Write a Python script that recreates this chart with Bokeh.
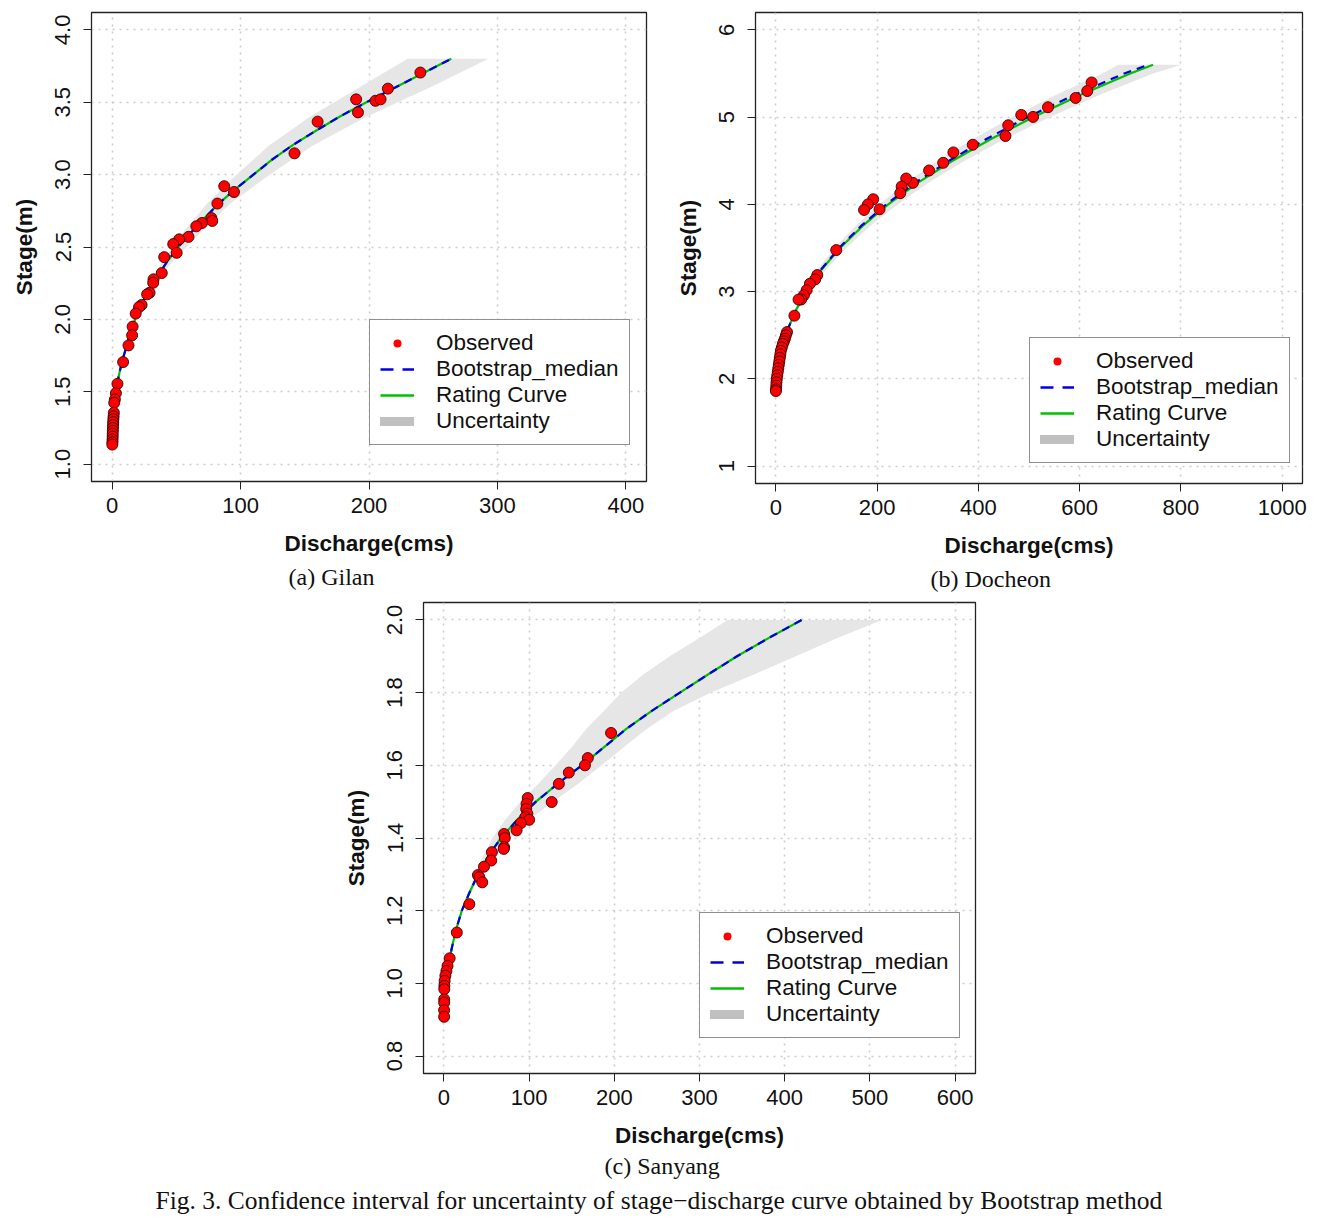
import numpy as np
from bokeh.plotting import figure
from bokeh.models import FixedTicker, Legend, LegendItem, Title, Range1d
from bokeh.layouts import row, column
from bokeh.embed import file_html
from bokeh.resources import INLINE

SANS = "Liberation Sans"
SERIF = "Liberation Serif"

# ---------------- (a) Gilan ----------------
gilan_obs_q = [240, 214.7, 190, 191.4, 205, 209, 160, 142, 87.3, 94.9, 82, 77.3, 78, 70, 65.6,
               59.5, 52.3, 47.6, 50.3, 40.6, 38.7, 32.3, 32, 29.2, 27.3, 23, 21, 18.4, 16, 15.6,
               12.8, 8.6, 4.2, 3.0, 2.2, 1.7, 1.4, 1.2, 1.0, 0.9, 0.8, 0.7, 0.6, 0.5, 0.5, 0.4, 0.3, 0.2]
gilan_obs_h = [3.705, 3.594, 3.52, 3.43, 3.51, 3.52, 3.366, 3.147, 2.92, 2.88, 2.80, 2.70, 2.68, 2.666, 2.643,
               2.57, 2.553, 2.52, 2.46, 2.43, 2.32, 2.277, 2.253, 2.184, 2.173, 2.10, 2.085, 2.04, 1.95, 1.89,
               1.82, 1.705, 1.555, 1.49, 1.447, 1.424, 1.355, 1.33, 1.31, 1.29, 1.27, 1.25, 1.23, 1.21, 1.19, 1.17, 1.15, 1.135]
gilan_curve_h = [1.55, 1.6, 1.7, 1.8, 1.9, 2.0, 2.1, 2.2, 2.3, 2.4, 2.5, 2.6, 2.7, 2.8, 2.9, 3.0,
                 3.1, 3.2, 3.3, 3.4, 3.5, 3.6, 3.7, 3.8]
gilan_rating_q = [4.2, 5.0, 7.5, 10.8, 14, 18, 23, 28.5, 35.5, 43, 51.5, 61.5, 72, 83, 96, 110,
                  124, 140, 158, 177, 198, 220, 242, 264]
gilan_boot_q = [4.2, 5.0, 7.5, 10.8, 14, 18, 23, 28.5, 35.5, 43, 51.5, 61.5, 72, 83, 96, 110,
                124, 140, 158, 177, 198, 220, 242, 264]
gilan_band_h = [2.2, 2.4, 2.6, 2.8, 3.0, 3.2, 3.4, 3.6, 3.8]
gilan_band_lo = [27.5, 39, 55, 74, 97, 122, 154, 192, 230]
gilan_band_hi = [29.5, 47, 69, 92, 123, 156, 198, 247, 293]
gilan_xticks = [0, 100, 200, 300, 400]
gilan_xlabels = ["0", "100", "200", "300", "400"]
gilan_yticks = [1.0, 1.5, 2.0, 2.5, 3.0, 3.5, 4.0]
gilan_ylabels = ["1.0", "1.5", "2.0", "2.5", "3.0", "3.5", "4.0"]

# ---------------- (b) Docheon ----------------
doc_obs_q = [623.6, 615, 592, 537.5, 508, 484.7, 459, 453.5, 389, 350.7, 330.6, 302.8, 270.8, 257.6,
             248.6, 245.8, 204.9, 192.4, 182, 174.3, 119.4, 82, 77.8, 67.4, 61, 55.5, 50, 45, 36.8,
             22.2, 20, 18, 16, 14, 12, 10, 9, 8, 7, 6, 5, 4, 3, 2, 1.5, 1, 0.5, 0.3]
doc_obs_h = [5.398, 5.30, 5.22, 5.114, 5.003, 5.026, 4.907, 4.784, 4.684, 4.596, 4.477, 4.389, 4.247, 4.297,
             4.205, 4.128, 3.944, 4.059, 4.0, 3.936, 3.476, 3.19, 3.14, 3.09, 3.016, 2.958, 2.909, 2.909, 2.724,
             2.536, 2.50, 2.46, 2.43, 2.40, 2.36, 2.32, 2.28, 2.24, 2.20, 2.16, 2.12, 2.08, 2.04, 2.00, 1.96,
             1.92, 1.88, 1.86]
doc_curve_h = [2.4, 2.6, 2.8, 3.0, 3.25, 3.5, 3.75, 4.0, 4.25, 4.5, 4.75, 5.0, 5.25, 5.5, 5.6]
doc_rating_q = [15, 26, 41, 60, 90, 127, 171, 222, 281, 349, 425, 508, 600, 700, 745]
doc_boot_q = [15, 26, 41, 60, 89, 125, 168, 218, 276, 342, 416, 497, 588, 688, 735]
doc_band_h = [2.4, 2.6, 2.8, 3.0, 3.25, 3.5, 3.75, 4.0, 4.25, 4.5, 4.75, 5.0, 5.25, 5.5, 5.6]
doc_band_lo = [14.2, 24, 38, 55, 82, 116, 157, 204, 258, 320, 390, 466, 552, 645, 676]
doc_band_hi = [15.8, 28, 45, 66, 99, 139, 186, 240, 302, 373, 452, 541, 638, 745, 801]
doc_xticks = [0, 200, 400, 600, 800, 1000]
doc_xlabels = ["0", "200", "400", "600", "800", "1000"]
doc_yticks = [1, 2, 3, 4, 5, 6]
doc_ylabels = ["1", "2", "3", "4", "5", "6"]

# ---------------- (c) Sanyang ----------------
san_obs_q = [196.2, 168.9, 165.5, 146.6, 134.9, 126.5, 98.3, 97, 96.6, 97.9, 95.4, 100, 90.3, 85.3,
             70.6, 71.4, 70.6, 70.2, 56.3, 55.5, 47, 39.9, 41.6, 45, 29.8, 15.1, 6.7, 4.2, 2.9, 1.7,
             0.8, 0.5, 0.4, 0.3, 0.3, 0.2, 0.2]
san_obs_h = [1.689, 1.620, 1.60, 1.580, 1.549, 1.499, 1.510, 1.494, 1.48, 1.467, 1.457, 1.450, 1.441, 1.421,
             1.411, 1.40, 1.375, 1.37, 1.361, 1.338, 1.321, 1.298, 1.292, 1.278, 1.218, 1.140, 1.069, 1.048,
             1.034, 1.021, 1.007, 0.993, 0.984, 0.956, 0.947, 0.926, 0.908]
san_curve_h = [1.05, 1.1, 1.15, 1.2, 1.25, 1.3, 1.35, 1.4, 1.45, 1.5, 1.55, 1.6, 1.65, 1.7, 1.75,
               1.8, 1.85, 1.9, 1.95, 2.0]
san_rating_q = [5, 9.5, 14.5, 21, 30, 40, 52, 67, 86, 108, 134, 162, 188, 214, 244, 277, 310, 344, 381, 420]
san_boot_q = [5, 9.5, 14.5, 21, 30, 40, 52, 67, 86, 108, 134, 162, 188, 214, 244, 277, 310, 344, 381, 420]
san_band_h = [1.25, 1.3, 1.35, 1.4, 1.45, 1.5, 1.55, 1.6, 1.65, 1.7, 1.75, 1.8, 1.85, 1.9, 1.95, 2.0]
san_band_lo = [29, 36, 46, 57, 72, 90, 111, 131, 150, 167, 188, 208, 234, 265, 300, 333]
san_band_hi = [31.5, 44, 59, 78, 100, 128, 158, 185, 211, 238, 270, 313, 364, 413, 462, 514]
san_xticks = [0, 100, 200, 300, 400, 500, 600]
san_xlabels = ["0", "100", "200", "300", "400", "500", "600"]
san_yticks = [0.8, 1.0, 1.2, 1.4, 1.6, 1.8, 2.0]
san_ylabels = ["0.8", "1.0", "1.2", "1.4", "1.6", "1.8", "2.0"]

legend_labels = ["Observed", "Bootstrap_median", "Rating Curve", "Uncertainty"]


def r_range(lo, hi):
    ext = (hi - lo) * 0.04
    return Range1d(lo - ext, hi + ext)


def make_panel(obs_q, obs_h, curve_h, rating_q, boot_q, band_h, band_lo, band_hi,
               xticks, xlabels, yticks, ylabels, frame_w, frame_h, borders,
               legend_loc, captions):
    p = figure(frame_width=frame_w, frame_height=frame_h,
               x_range=r_range(xticks[0], xticks[-1]), y_range=r_range(yticks[0], yticks[-1]),
               output_backend="svg", toolbar_location=None,
               min_border_left=borders[0], min_border_right=borders[1],
               min_border_top=borders[2], min_border_bottom=borders[3],
               background_fill_color="white", border_fill_color="white",
               outline_line_color="#222222", outline_line_width=1.3)

    p.harea(y=band_h, x1=band_lo, x2=band_hi, fill_color="#e6e6e6", fill_alpha=1.0)
    p.line(rating_q, curve_h, line_color="#00c000", line_width=2.2)
    p.line(boot_q, curve_h, line_color="#0000e0", line_width=2.2, line_dash="8 6")
    p.scatter(obs_q, obs_h, size=11, fill_color="#ff0000", line_color="#3a0000", line_width=0.9)

    # legend-only renderers (NaN data: nothing drawn in the plot area)
    nan = np.array([np.nan])
    l_obs = p.scatter(x=nan, y=nan, size=8, fill_color="#ff0000", line_color=None)
    l_boot = p.line(x=nan, y=nan, line_color="#0000e0", line_width=2.5, line_dash="13 9")
    l_rc = p.line(x=nan, y=nan, line_color="#00c000", line_width=2.5)
    l_unc = p.line(x=nan, y=nan, line_color="#c0c0c0", line_width=9, line_cap="round")
    items = [LegendItem(label=lab, renderers=[r]) for lab, r in
             zip(legend_labels, [l_obs, l_boot, l_rc, l_unc])]
    leg = Legend(items=items, location=legend_loc, margin=0, padding=10, spacing=0,
                 label_height=26, glyph_height=20, glyph_width=34, label_standoff=22,
                 label_text_font=SANS, label_text_font_size="22.5px", label_text_color="#111111",
                 border_line_color="#222222", border_line_width=1.2,
                 background_fill_color="white", background_fill_alpha=1.0)
    p.add_layout(leg)

    p.xaxis.ticker = FixedTicker(ticks=xticks)
    p.yaxis.ticker = FixedTicker(ticks=yticks)
    p.xaxis.major_label_overrides = dict(zip(xticks, xlabels))
    p.yaxis.major_label_overrides = dict(zip(yticks, ylabels))
    p.xaxis.axis_label = "Discharge(cms)"
    p.yaxis.axis_label = "Stage(m)"
    p.yaxis.major_label_orientation = "vertical"
    for ax in (p.xaxis, p.yaxis):
        ax.axis_line_color = "#222222"
        ax.major_tick_line_color = "#222222"
        ax.major_tick_out = 8
        ax.major_tick_in = 0
        ax.minor_tick_line_color = None
        ax.major_label_text_font = SANS
        ax.major_label_text_font_size = "22px"
        ax.major_label_text_color = "#111111"
        ax.axis_label_text_font = SANS
        ax.axis_label_text_font_size = "22.5px"
        ax.axis_label_text_font_style = "bold"
        ax.axis_label_text_color = "#111111"
    p.xaxis.major_label_standoff = 8
    p.xaxis.axis_label_standoff = 15
    p.yaxis.major_label_standoff = 13
    p.yaxis.axis_label_standoff = 16

    for g in (p.xgrid, p.ygrid):
        g.grid_line_color = "#cccccc"
        g.grid_line_dash = "2 5"
        g.grid_line_width = 1.6

    for text, off, size, standoff in captions:
        p.add_layout(Title(text=text, align="left", offset=off, text_font=SERIF,
                           text_font_size=size, text_font_style="normal",
                           text_color="#111111", standoff=standoff), "below")
    return p


pa = make_panel(gilan_obs_q, gilan_obs_h, gilan_curve_h, gilan_rating_q, gilan_boot_q,
                gilan_band_h, gilan_band_lo, gilan_band_hi,
                gilan_xticks, gilan_xlabels, gilan_yticks, gilan_ylabels,
                555, 469, (91, 22, 12, 117), (278, 36),
                [("(a)  Gilan", 197, "24px", 6)])
pb = make_panel(doc_obs_q, doc_obs_h, doc_curve_h, doc_rating_q, doc_boot_q,
                doc_band_h, doc_band_lo, doc_band_hi,
                doc_xticks, doc_xlabels, doc_yticks, doc_ylabels,
                547, 471, (87, 20, 12, 115), (274, 20),
                [("(b)  Docheon", 175, "24px", 6)])
pc = make_panel(san_obs_q, san_obs_h, san_curve_h, san_rating_q, san_boot_q,
                san_band_h, san_band_lo, san_band_hi,
                san_xticks, san_xlabels, san_yticks, san_ylabels,
                552, 471, (423, 347, 4, 148), (276, 35),
                [("(c)  Sanyang", 181, "24px", 1),
                 ("Fig. 3. Confidence interval for uncertainty of stage\u2212discharge curve obtained by Bootstrap method",
                  -268, "25.5px", 8)])

layout = column(row(pa, pb), pc)
open("out.html", "w").write(file_html(layout, INLINE))
